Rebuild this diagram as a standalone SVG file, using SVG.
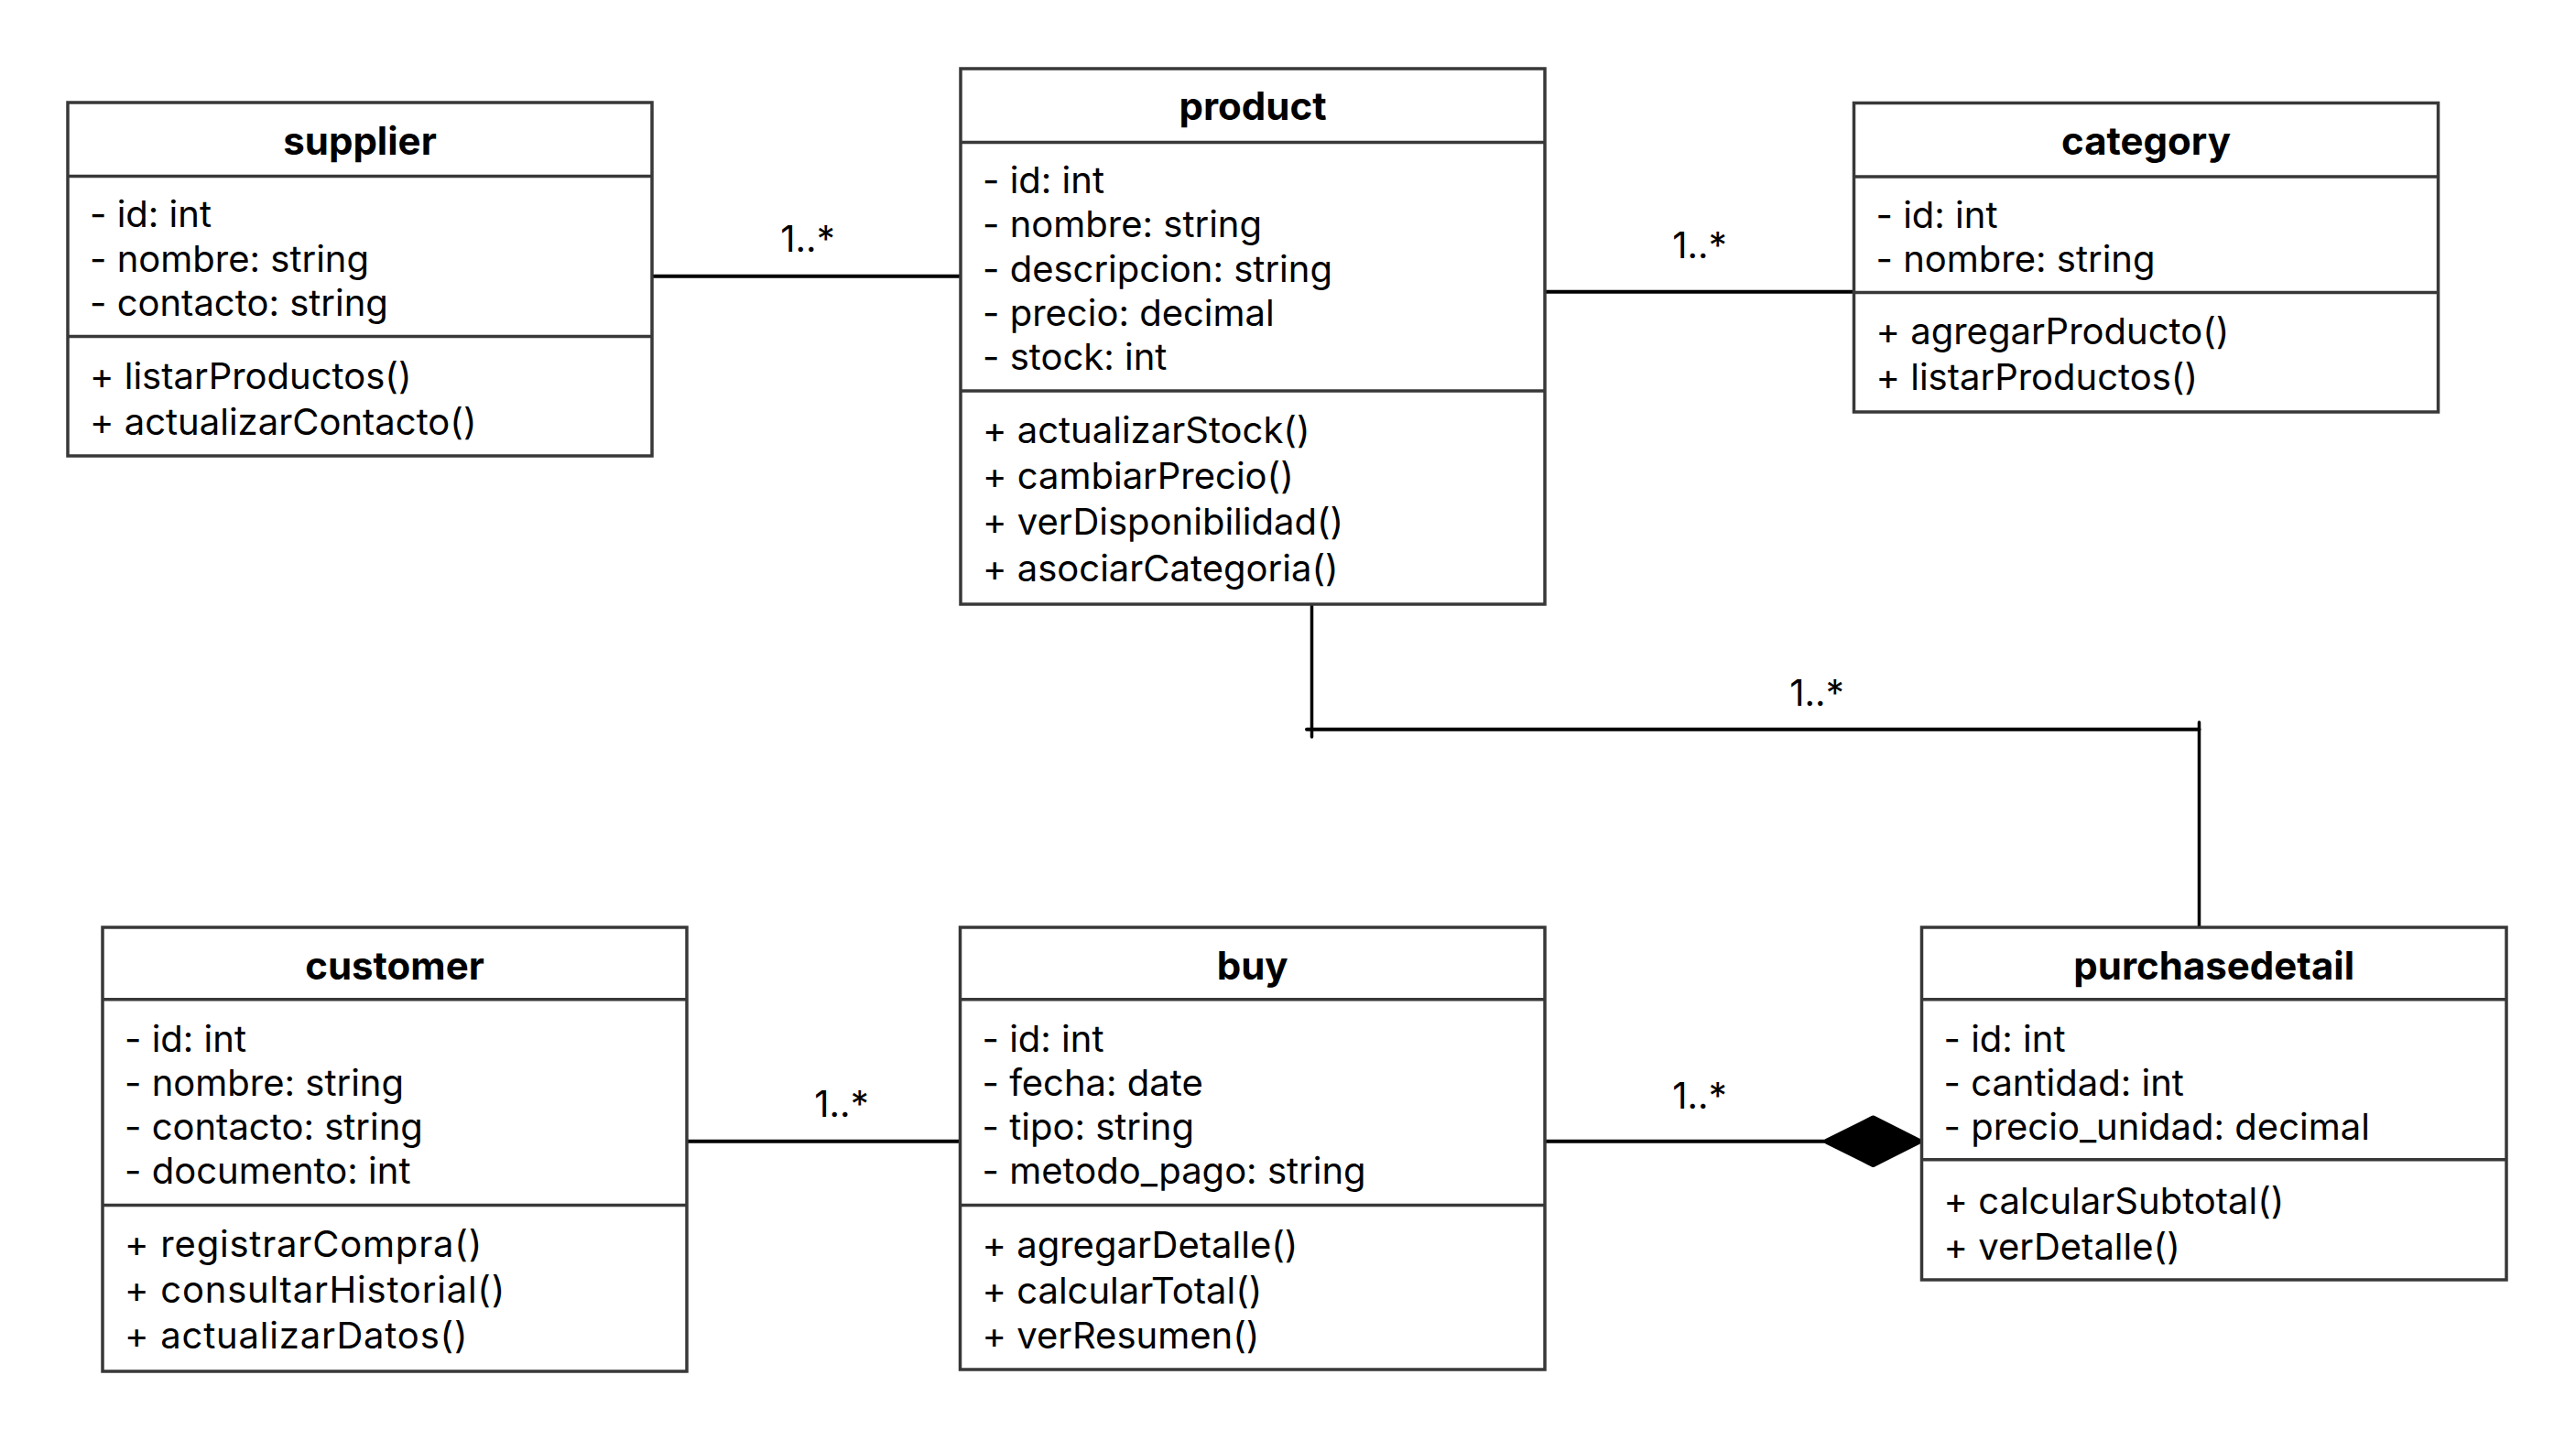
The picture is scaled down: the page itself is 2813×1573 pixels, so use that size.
<svg xmlns="http://www.w3.org/2000/svg" width="2813" height="1573" viewBox="0 0 2813 1573">
<style>
.box{fill:#fff;stroke:#383838;stroke-width:3.5}
.div{stroke:#383838;stroke-width:3.5}
.t{font-family:Inter,"Liberation Sans",sans-serif;font-size:40px;fill:#000}
.w{letter-spacing:0.8px}
.h{font-family:Inter,"Liberation Sans",sans-serif;font-size:42px;font-weight:bold;fill:#000;text-anchor:middle}
.lbl{font-family:Inter,"Liberation Sans",sans-serif;font-size:40px;fill:#000;text-anchor:middle}
.c{stroke:#000;stroke-width:4;fill:none;stroke-linecap:round}
</style>
<rect width="2813" height="1573" fill="#fff"/>
<g id="connectors">
<line class="c" x1="712" y1="301.7" x2="1049" y2="301.7"/>
<text class="lbl" x="882" y="275">1..*</text>
<line class="c" x1="1687" y1="318.8" x2="2024.5" y2="318.8"/>
<text class="lbl" x="1856" y="282">1..*</text>
<line class="c" x1="1432.5" y1="660" x2="1432.5" y2="805" style="stroke-width:3.5"/>
<line class="c" x1="1427" y1="796.7" x2="2401.5" y2="796.7"/>
<line class="c" x1="2401.5" y1="789" x2="2401.5" y2="1013" style="stroke-width:3.5"/>
<text class="lbl" x="1984" y="770.6">1..*</text>
<line class="c" x1="750" y1="1246.7" x2="1048.5" y2="1246.7"/>
<text class="lbl" x="919" y="1220">1..*</text>
<line class="c" x1="1687" y1="1246.7" x2="1995" y2="1246.7"/>
<polygon points="1995,1246.7 2045.5,1221.5 2095.5,1246.7 2045.5,1272" fill="#000" stroke="#000" stroke-width="6" stroke-linejoin="round"/>
<text class="lbl" x="1856" y="1211.2">1..*</text>
</g>
<g id="supplier">
<rect class="box" x="74" y="112" width="638" height="386"/>
<line class="div" x1="74" y1="192.5" x2="712" y2="192.5"/>
<line class="div" x1="74" y1="367.5" x2="712" y2="367.5"/>
<g transform="translate(0,1.6)">
<text class="h" x="393" y="167">supplier</text>
<text class="t" x="98" y="246.7">- id: int</text>
<text class="t" x="98" y="295">- nombre: string</text>
<text class="t" x="98" y="343.5">- contacto: string</text>
<text class="t" x="98" y="423">+ listarProductos()</text>
<text class="t" x="98" y="473.5">+ actualizarContacto()</text>
</g>
</g>
<g id="product">
<rect class="box" x="1049" y="75" width="638" height="585"/>
<line class="div" x1="1049" y1="155.5" x2="1687" y2="155.5"/>
<line class="div" x1="1049" y1="427" x2="1687" y2="427"/>
<g transform="translate(0,1.6)">
<text class="h" x="1368" y="129.5">product</text>
<text class="t" x="1073" y="209">- id: int</text>
<text class="t" x="1073" y="257.5">- nombre: string</text>
<text class="t" x="1073" y="306">- descripcion: string</text>
<text class="t" x="1073" y="354.3">- precio: decimal</text>
<text class="t" x="1073" y="402.5">- stock: int</text>
<text class="t" x="1073" y="482">+ actualizarStock()</text>
<text class="t" x="1073" y="532.6">+ cambiarPrecio()</text>
<text class="t" x="1073" y="582.6">+ verDisponibilidad()</text>
<text class="t" x="1073" y="633">+ asociarCategoria()</text>
</g>
</g>
<g id="category">
<rect class="box" x="2024.5" y="112.5" width="638" height="337.5"/>
<line class="div" x1="2024.5" y1="193" x2="2662.5" y2="193"/>
<line class="div" x1="2024.5" y1="319.5" x2="2662.5" y2="319.5"/>
<g transform="translate(0,1.6)">
<text class="h" x="2343.5" y="167">category</text>
<text class="t" x="2048.5" y="247">- id: int</text>
<text class="t" x="2048.5" y="295">- nombre: string</text>
<text class="t" x="2048.5" y="374">+ agregarProducto()</text>
<text class="t" x="2048.5" y="424">+ listarProductos()</text>
</g>
</g>
<g id="customer">
<rect class="box" x="112" y="1013" width="638" height="485"/>
<line class="div" x1="112" y1="1091.7" x2="750" y2="1091.7"/>
<line class="div" x1="112" y1="1316.6" x2="750" y2="1316.6"/>
<g transform="translate(0,1.6)">
<text class="h" x="431" y="1068.4">customer</text>
<text class="t" x="136" y="1147.2">- id: int</text>
<text class="t" x="136" y="1195.4">- nombre: string</text>
<text class="t" x="136" y="1243.5">- contacto: string</text>
<text class="t" x="136" y="1291.5">- documento: int</text>
<text class="t w" x="136" y="1371.5">+ registrarCompra()</text>
<text class="t w" x="136" y="1421.5">+ consultarHistorial()</text>
<text class="t w" x="136" y="1471.5">+ actualizarDatos()</text>
</g>
</g>
<g id="buy">
<rect class="box" x="1048.5" y="1013" width="638.5" height="483"/>
<line class="div" x1="1048.5" y1="1091.7" x2="1687" y2="1091.7"/>
<line class="div" x1="1048.5" y1="1316.6" x2="1687" y2="1316.6"/>
<g transform="translate(0,1.6)">
<text class="h" x="1367.7" y="1068.4">buy</text>
<text class="t" x="1072.5" y="1147.2">- id: int</text>
<text class="t" x="1072.5" y="1195.4">- fecha: date</text>
<text class="t" x="1072.5" y="1243.5">- tipo: string</text>
<text class="t" x="1072.5" y="1291.5">- metodo_pago: string</text>
<text class="t" x="1072.5" y="1372.5">+ agregarDetalle()</text>
<text class="t" x="1072.5" y="1422.5">+ calcularTotal()</text>
<text class="t" x="1072.5" y="1471.5">+ verResumen()</text>
</g>
</g>
<g id="purchasedetail">
<rect class="box" x="2098.5" y="1013" width="638.5" height="385"/>
<line class="div" x1="2098.5" y1="1091.7" x2="2737" y2="1091.7"/>
<line class="div" x1="2098.5" y1="1266.7" x2="2737" y2="1266.7"/>
<g transform="translate(0,1.6)">
<text class="h" x="2417.7" y="1068.4">purchasedetail</text>
<text class="t" x="2122.5" y="1147.2">- id: int</text>
<text class="t" x="2122.5" y="1195">- cantidad: int</text>
<text class="t" x="2122.5" y="1243.4">- precio_unidad: decimal</text>
<text class="t" x="2122.5" y="1324.5">+ calcularSubtotal()</text>
<text class="t" x="2122.5" y="1374.7">+ verDetalle()</text>
</g>
</g>
</svg>
